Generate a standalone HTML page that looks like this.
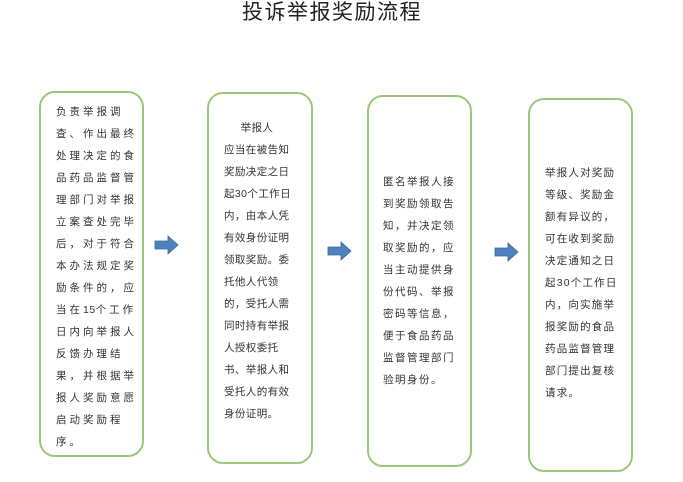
<!DOCTYPE html>
<html><head><meta charset="utf-8"><style>
body{margin:0;width:683px;height:482px;background:#fff;position:relative;overflow:hidden;font-family:"Liberation Sans","Noto Sans CJK SC",sans-serif;}
.t{position:absolute;left:242px;top:1px;font-size:21px;letter-spacing:1.5px;color:#222;white-space:nowrap;line-height:24px}
.b{position:absolute;border:2px solid #9bc77a;border-radius:16px;box-sizing:border-box}
.x{position:absolute;font-size:10.5px;color:#333;white-space:nowrap}
.x div{height:22px;line-height:22px}
</style></head><body>
<div class="t">投诉举报奖励流程</div>
<div class="b" style="left:39px;top:91px;width:105px;height:366px"></div>
<div class="b" style="left:207px;top:92px;width:106px;height:372px"></div>
<div class="b" style="left:367px;top:95px;width:105px;height:372px"></div>
<div class="b" style="left:528px;top:98px;width:105px;height:374px"></div>
<div class="x" style="left:56px;top:101px;letter-spacing:3px">
<div>负责举报调</div><div>查、作出最终</div><div>处理决定的食</div><div>品药品监督管</div><div>理部门对举报</div><div>立案查处完毕</div><div>后，对于符合</div><div>本办法规定奖</div><div>励条件的，应</div><div>当在<span style="letter-spacing:0.5px">15</span>个工作</div><div>日内向举报人</div><div>反馈办理结</div><div>果，并根据举</div><div>报人奖励意愿</div><div>启动奖励程</div><div>序。</div></div>
<div class="x" style="left:224px;top:117px;letter-spacing:0.4px">
<div>&nbsp;&nbsp;&nbsp;&nbsp;&nbsp;举报人</div><div>应当在被告知</div><div>奖励决定之日</div><div>起30个工作日</div><div>内，由本人凭</div><div>有效身份证明</div><div>领取奖励。委</div><div>托他人代领</div><div>的，受托人需</div><div>同时持有举报</div><div>人授权委托</div><div>书、举报人和</div><div>受托人的有效</div><div>身份证明。</div></div>
<div class="x" style="left:383px;top:171px;letter-spacing:1.5px">
<div>匿名举报人接</div><div>到奖励领取告</div><div>知，并决定领</div><div>取奖励的，应</div><div>当主动提供身</div><div>份代码、举报</div><div>密码等信息，</div><div>便于食品药品</div><div>监督管理部门</div><div>验明身份。</div></div>
<div class="x" style="left:545px;top:162px;letter-spacing:1.2px">
<div>举报人对奖励</div><div>等级、奖励金</div><div>额有异议的，</div><div>可在收到奖励</div><div>决定通知之日</div><div>起30个工作日</div><div>内，向实施举</div><div>报奖励的食品</div><div>药品监督管理</div><div>部门提出复核</div><div>请求。</div></div>
<svg width="683" height="482" style="position:absolute;left:0;top:0">
<g fill="#4f81bd" stroke="#3d6a9e" stroke-width="0.8">
<polygon points="155,241 168,241 168,236 178,245 168,254 168,249 155,249"/>
<polygon points="328,247 341,247 341,242 351,251 341,260 341,255 328,255"/>
<polygon points="495,248 508,248 508,243 518,252 508,261 508,256 495,256"/>
</g></svg>
</body></html>
